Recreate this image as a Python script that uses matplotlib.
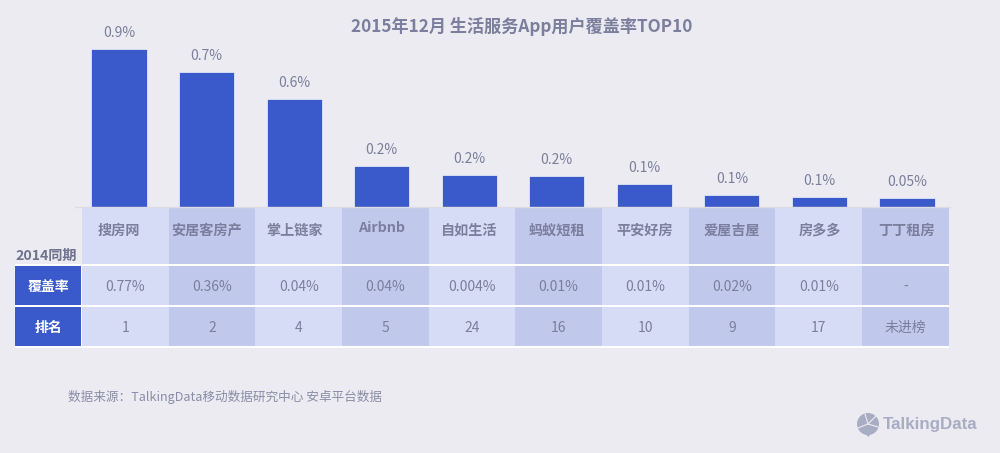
import matplotlib
matplotlib.use("Agg")
import matplotlib.pyplot as plt
from matplotlib.patches import Rectangle, Circle, Polygon

plt.rcParams['font.family'] = ['Noto Sans CJK SC', 'DejaVu Sans']

names = ['搜房网', '安居客房产', '掌上链家', 'Airbnb', '自如生活', '蚂蚁短租', '平安好房', '爱屋吉屋', '房多多', '丁丁租房']
coverage = [0.9, 0.77, 0.615, 0.235, 0.183, 0.178, 0.132, 0.066, 0.057, 0.049]
coverage_labels = ['0.9%', '0.7%', '0.6%', '0.2%', '0.2%', '0.2%', '0.1%', '0.1%', '0.1%', '0.05%']
coverage_2014 = ['0.77%', '0.36%', '0.04%', '0.04%', '0.004%', '0.01%', '0.01%', '0.02%', '0.01%', '-']
rank_2014 = ['1', '2', '4', '5', '24', '16', '10', '9', '17', '未进榜']

BG = '#ecebf1'
BLUE = '#3a5acb'
LIGHT = '#d7dcf6'
DARK = '#c0c9ec'
TEXT = '#7b7e9c'
W, H = 1000, 453

fig = plt.figure(figsize=(W / 100, H / 100), dpi=100, facecolor=BG)

# overlay in pixel coordinates for table and text
bg = fig.add_axes([0, 0, 1, 1])
bg.set_xlim(0, W)
bg.set_ylim(H, 0)
bg.axis('off')

# bars: pitch is slightly wider than the table columns
left_px, right_px = 75, 950
top_px, base_px = 20, 207
ax = fig.add_axes([left_px / W, 1 - base_px / H, (right_px - left_px) / W, (base_px - top_px) / H])
ax.patch.set_alpha(0)
pitch = 87.55
ax.set_xlim((left_px - 119) / pitch, (right_px - 119) / pitch)
ax.set_ylim(0, (base_px - top_px) / 175.5)
x = list(range(len(names)))
bars = ax.bar(x, coverage, width=0.63, color=BLUE, edgecolor='#f2f3fa', linewidth=0.5)
for rect, label in zip(bars, coverage_labels):
    ax.annotate(label, (rect.get_x() + rect.get_width() / 2, rect.get_height()),
                xytext=(0, 11.5), textcoords='offset points', ha='center', va='center',
                fontsize=10, color=TEXT)
for side in ['top', 'left', 'right']:
    ax.spines[side].set_visible(False)
ax.spines['bottom'].set_color('#dcdce2')
ax.spines['bottom'].set_linewidth(1)
ax.set_xticks([])
ax.set_yticks([])

# table
col0, col_w = 82, 86.67
rows = [(208, 264), (266, 305), (307, 346)]
bg.add_patch(Rectangle((15, 264), col0 + col_w * 10 - 15, 84, color='white', lw=0))
bg.add_patch(Rectangle((15, 266), 66, 39, color=BLUE, lw=0))
bg.add_patch(Rectangle((15, 307), 66, 39, color=BLUE, lw=0))
for i in range(len(names)):
    color = LIGHT if i % 2 == 0 else DARK
    for y0, y1 in rows:
        bg.add_patch(Rectangle((col0 + i * col_w, y0), col_w, y1 - y0, color=color, lw=0))
    cx = col0 + (i + 0.5) * col_w
    bg.text(cx, 287, coverage_2014[i], ha='center', va='center', fontsize=10, color=TEXT)
    bg.text(cx, 328, rank_2014[i], ha='center', va='center', fontsize=10, color=TEXT)
    # column names follow the bars, not the cells
    name_y = 228 if names[i] == 'Airbnb' else 231
    bg.text(119 + i * pitch, name_y, names[i], ha='center', va='center',
            fontsize=10.2, color=TEXT, fontweight='bold')

bg.text(46, 256, '2014同期', ha='center', va='center', fontsize=10.2, color='#70738f', fontweight='bold')
bg.text(48, 287, '覆盖率', ha='center', va='center', fontsize=10, color='white', fontweight='bold')
bg.text(48, 328, '排名', ha='center', va='center', fontsize=10, color='white', fontweight='bold')

bg.text(522, 26, '2015年12月 生活服务App用户覆盖率TOP10', ha='center', va='center',
        fontsize=12.3, color=TEXT, fontweight='bold')
bg.text(68, 397, '数据来源：TalkingData移动数据研究中心 安卓平台数据', ha='left', va='center',
        fontsize=9.1, color='#8a8da8')

# logo
LOGO = '#a9adc3'
bg.add_patch(Circle((868, 424), 11, color=LOGO, lw=0))
bg.add_patch(Polygon([[862, 432], [870, 434], [869, 437]], color=LOGO, lw=0))
bg.plot([858, 868, 876], [428, 424, 416], color=BG, lw=0.8)
bg.plot([868, 865], [424, 414], color=BG, lw=0.8)
bg.plot([868, 878], [424, 427], color=BG, lw=0.8)
bg.text(883, 425, 'TalkingData', ha='left', va='center', fontsize=12.2, color=LOGO,
        fontweight='bold', family=['Liberation Sans', 'DejaVu Sans'])

fig.savefig('out.png', dpi=100, facecolor=BG)
